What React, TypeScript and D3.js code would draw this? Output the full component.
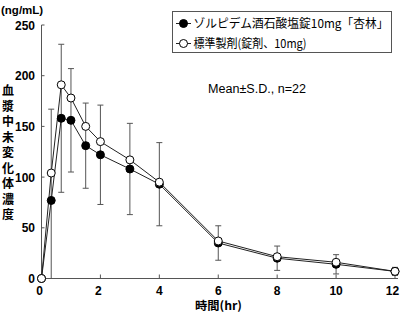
import React from "react";
import * as d3 from "d3";

const times = [0, 0.33, 0.67, 1, 1.5, 2, 3, 4, 6, 8, 10, 12];
const testMean = [0, 77, 158, 156, 131, 122, 108, 93, 35, 20, 14, 7];
const testSD = [0, 90, 73, 51, 42, 49, 45, 41, 17, 12, 9.5, 4];
const refMean = [0, 104, 191, 178, 150, 135, 117, 95, 37, 21.5, 16, 7];
const xTicks = [0, 2, 4, 6, 8, 10, 12];
const yTicks = [0, 50, 100, 150, 200, 250];
const seriesNames = ["ゾルピデム酒石酸塩錠10mg「杏林」", "標準製剤(錠剤、10mg)"];
const yTitle = "血漿中未変化体濃度";

const W = 400;
const H = 312;
const jp = "'Noto Sans CJK JP', sans-serif";
const lat = "'Liberation Sans', Arial, sans-serif";

export default function App() {
  const x = d3.scaleLinear().domain([0, 12]).range([41.5, 395]);
  const y = d3.scaleLinear().domain([0, 250]).range([278.5, 25]);
  const line = d3
    .line<number>()
    .x((_, i) => x(times[i]))
    .y((d) => y(d));
  const axisColor = "#555";

  return (
    <svg
      width={W}
      height={H}
      style={{ position: "absolute", left: 0, top: 0, background: "#fff" }}
    >
      {/* axes */}
      <line x1={x(0)} x2={x(0)} y1={y(250)} y2={y(0)} stroke={axisColor} strokeWidth={1} />
      <line x1={x(0)} x2={398} y1={y(0)} y2={y(0)} stroke={axisColor} strokeWidth={1} />
      {yTicks.map((t) => (
        <g key={"y" + t}>
          <line x1={x(0)} x2={x(0) + 3} y1={y(t)} y2={y(t)} stroke={axisColor} />
          <text
            x={35}
            y={y(t) + 4.5}
            textAnchor="end"
            fontFamily={lat}
            fontWeight="bold"
            fontSize={12}
            fill="#000"
          >
            {t}
          </text>
        </g>
      ))}
      {xTicks.map((t) => (
        <g key={"x" + t}>
          <line x1={x(t)} x2={x(t)} y1={y(0)} y2={y(0) - 4} stroke={axisColor} />
          <text
            x={x(t) - (t === 0 || t === 2 ? 2 : t === 12 ? 2.5 : 0)}
            y={294.5}
            textAnchor="middle"
            fontFamily={lat}
            fontWeight="bold"
            fontSize={12}
            fill="#000"
          >
            {t}
          </text>
        </g>
      ))}
      <text
        x={195}
        y={310}
        fontFamily={jp}
        fontSize={11.5}
        fontWeight="bold"
        fill="#000"
        textLength={47}
        lengthAdjust="spacingAndGlyphs"
      >
        時間(hr)
      </text>
      <text x={1} y={14} fontFamily={lat} fontSize={11.5} fontWeight="bold" fill="#000">
        (ng/mL)
      </text>
      {yTitle.split("").map((c, i) => (
        <text
          key={"t" + i}
          x={8}
          y={95 + i * 15.5}
          textAnchor="middle"
          fontFamily={jp}
          fontSize={12}
          fontWeight="bold"
          fill="#000"
        >
          {c}
        </text>
      ))}

      {/* error bars */}
      {times.map((t, i) =>
        testSD[i] > 0 ? (
          <g key={"e" + i} stroke="#555" strokeWidth={1}>
            <line
              x1={x(t)}
              x2={x(t)}
              y1={y(testMean[i] + testSD[i])}
              y2={y(Math.max(0, testMean[i] - testSD[i]))}
            />
            <line x1={x(t) - 3} x2={x(t) + 3} y1={y(testMean[i] + testSD[i])} y2={y(testMean[i] + testSD[i])} />
            {testMean[i] - testSD[i] > 0 && (
              <line x1={x(t) - 3} x2={x(t) + 3} y1={y(testMean[i] - testSD[i])} y2={y(testMean[i] - testSD[i])} />
            )}
          </g>
        ) : null
      )}

      {/* lines */}
      <path d={line(testMean) || ""} fill="none" stroke="#222" strokeWidth={1} />
      <path d={line(refMean) || ""} fill="none" stroke="#222" strokeWidth={1} />

      {/* markers */}
      {testMean.map((v, i) => (
        <circle key={"f" + i} cx={x(times[i])} cy={y(v)} r={4} fill="#000" stroke="#000" strokeWidth={1} />
      ))}
      {refMean.map((v, i) => (
        <circle key={"o" + i} cx={x(times[i])} cy={y(v)} r={4} fill="#fff" stroke="#000" strokeWidth={1} />
      ))}

      {/* legend */}
      <rect x={172.5} y={11.5} width={219} height={41} fill="#fff" stroke="#555" strokeWidth={1} />
      <line x1={176} x2={191} y1={23.5} y2={23.5} stroke="#222" />
      <circle cx={183.5} cy={23.5} r={4} fill="#000" stroke="#000" />
      <text
        x={193.5}
        y={27.5}
        fontFamily={jp}
        fontSize={12}
        fill="#000"
        textLength={195}
        lengthAdjust="spacingAndGlyphs"
      >
        {seriesNames[0]}
      </text>
      <line x1={176} x2={191} y1={43.5} y2={43.5} stroke="#222" />
      <circle cx={183.5} cy={43.5} r={4} fill="#fff" stroke="#000" />
      <text
        x={193.5}
        y={47.5}
        fontFamily={jp}
        fontSize={12}
        fill="#000"
        textLength={113}
        lengthAdjust="spacingAndGlyphs"
      >
        {seriesNames[1]}
      </text>

      <text
        x={208}
        y={92.5}
        fontFamily={lat}
        fontSize={12}
        fill="#000"
        textLength={98}
        lengthAdjust="spacingAndGlyphs"
      >
        Mean±S.D., n=22
      </text>
    </svg>
  );
}
